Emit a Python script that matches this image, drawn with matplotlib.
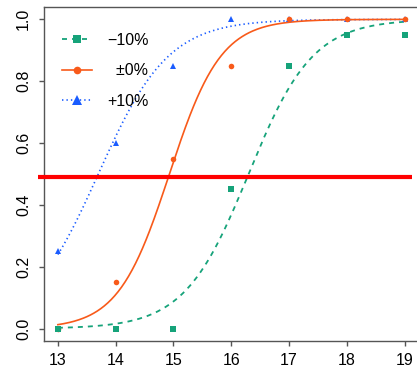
import numpy as np
import matplotlib
matplotlib.use("Agg")
import matplotlib.pyplot as plt

plt.rcParams['font.family'] = ['Liberation Sans', 'DejaVu Sans']
plt.rcParams['lines.scale_dashes'] = False

# Observed response fractions at each concentration
conc = [13, 14, 15, 16, 17, 18, 19]
minus10 = [0.0, 0.0, 0.0, 0.45, 0.85, 0.95, 0.95]
zero = [0.0, 0.15, 0.55, 0.85, 1.0, 1.0, 1.0]
plus10 = [0.25, 0.60, 0.85, 1.0, 1.0, 1.0, 1.0]

# Fitted logistic dose-response parameters (midpoint, slope)
mid_minus10, slope_minus10 = 16.30, 1.80
mid_zero, slope_zero = 14.93, 2.25
mid_plus10, slope_plus10 = 13.70, 1.65

threshold = 0.49

labels = ['\u221210%', '  \u00b10%', '+10%']
xticks = [13, 14, 15, 16, 17, 18, 19]
yticks = [0.0, 0.2, 0.4, 0.6, 0.8, 1.0]

GREEN = '#16a37a'
ORANGE = '#f85a1a'
BLUE = '#1a5cff'
AXC = '#555555'


def logistic(x, mid, slope):
    return 1.0 / (1.0 + np.exp(-slope * (np.asarray(x) - mid)))


fig = plt.figure(figsize=(4.17, 3.72), dpi=100)
ax = fig.add_axes([44 / 417, 31 / 372, 374.5 / 417, 334 / 372])

xs = np.linspace(conc[0], conc[-1], 300)

# +10% series (drawn first so later series sit on top)
ax.plot(xs, logistic(xs, mid_plus10, slope_plus10), color=BLUE, lw=1.2,
        linestyle=(0, (1.0, 2.2)), zorder=2)
ax.plot(conc, plus10, linestyle='none', marker='^', color=BLUE, ms=5.0,
        mew=0, zorder=3)

# ±0% series
ax.plot(xs, logistic(xs, mid_zero, slope_zero), color=ORANGE, lw=1.2,
        linestyle='-', zorder=2)
ax.plot(conc, zero, linestyle='none', marker='o', color=ORANGE, ms=4.0,
        mew=0, zorder=3)

# -10% series
ax.plot(xs, logistic(xs, mid_minus10, slope_minus10), color=GREEN, lw=1.3,
        linestyle=(0, (3.6, 3.6)), zorder=2)
ax.plot(conc, minus10, linestyle='none', marker='s', color=GREEN, ms=3.8,
        mew=0, zorder=3)

# 50% response threshold
ax.plot([12.65, 19.125], [threshold, threshold], color='#ff0000', lw=3.0,
        solid_capstyle='butt', zorder=5, clip_on=False)

ax.set_xlim(12.76, 19.24)
ax.set_ylim(-0.04, 1.04)
ax.set_xticks(xticks)
ax.set_xticklabels([str(t) for t in xticks])
ax.set_yticks(yticks)
ax.set_yticklabels([f'{t:.1f}' for t in yticks], rotation=90, va='center')

for side in ['left', 'bottom', 'top', 'right']:
    ax.spines[side].set_color(AXC)
    ax.spines[side].set_linewidth(1.0)
ax.tick_params(direction='out', length=3.8, width=1.0, color=AXC,
               labelsize=11.5, labelcolor='black')
ax.tick_params(axis='x', pad=5)
ax.tick_params(axis='y', pad=5.5)

# Legend
h1, = ax.plot([], [], color=GREEN, lw=1.3, linestyle=(0, (3.6, 3.6)),
              marker='s', ms=5.2, mew=0)
h2, = ax.plot([], [], color=ORANGE, lw=1.2, linestyle='-',
              marker='o', ms=5.5, mew=0)
h3, = ax.plot([], [], color=BLUE, lw=1.2, linestyle=(0, (1.0, 2.2)),
              marker='^', ms=6.5, mew=0)
ax.legend([h1, h2, h3], labels, loc='upper left',
          bbox_to_anchor=(0.048, 0.923), frameon=False, fontsize=11.5,
          handlelength=1.9, handletextpad=0.95, labelspacing=0.97,
          borderpad=0, borderaxespad=0, numpoints=1)

fig.savefig('out.png', dpi=100)
